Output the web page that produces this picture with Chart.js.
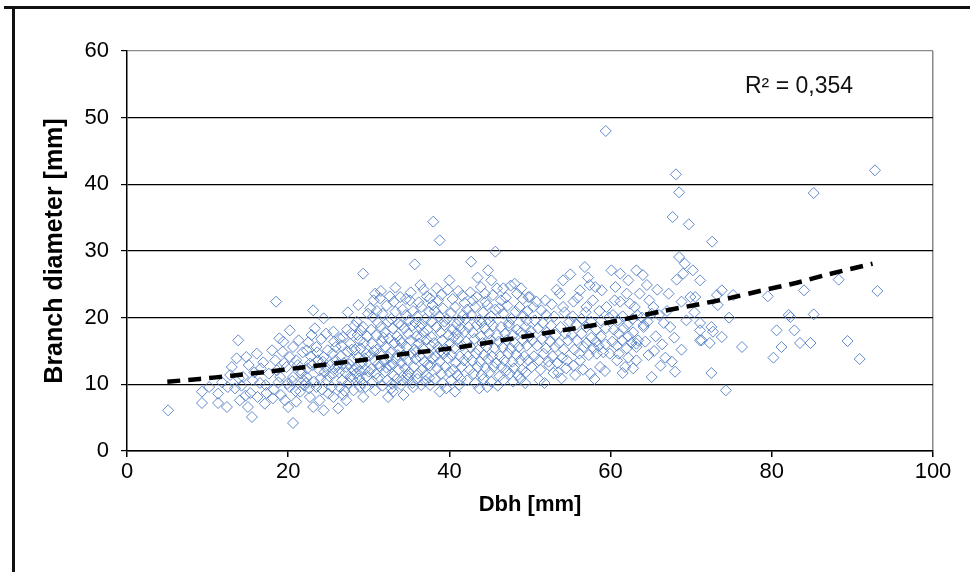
<!DOCTYPE html>
<html>
<head>
<meta charset="utf-8">
<script src="https://cdn.jsdelivr.net/npm/chart.js@4.4.1/dist/chart.umd.min.js"></script>
<style>
html,body{margin:0;padding:0;background:#fff;}
#wrap{width:970px;height:572px;position:relative;}
canvas{display:block;}
</style>
</head>
<body>
<div id="wrap"><canvas id="c" width="970" height="572"></canvas></div>
<script>
// ---- Data ----
const dbh = [
  5.1,9.3,9.3,10.2,11.3,11.3,11.8,12.4,12.5,12.8,
  13.0,13.8,13.6,13.4,14.4,14.8,16.1,15.0,15.5,14.0,15.3,16.5,17.3,17.1,15.8,16.6,14.2,15.6,16.9,13.9,17.2,16.2,15.1,17.6,14.7,
  18.5,18.0,18.4,19.0,19.6,20.6,20.2,19.4,20.6,20.2,21.0,19.8,21.5,20.6,21.9,20.2,21.5,21.0,18.2,18.8,19.1,19.9,18.6,21.3,21.8,20.9,18.1,19.5,21.6,20.0,22.0,21.2,19.3,18.9,20.5,
  23.1,24.4,22.9,22.3,23.5,24.4,22.7,23.9,22.3,23.5,24.8,22.7,23.9,24.4,23.1,25.6,25.9,25.9,25.6,25.6,22.5,23.3,24.1,24.9,25.3,22.8,23.7,24.6,25.1,22.4,23.2,24.2,25.4,24.0,22.6,25.8,24.7,23.0,25.5,24.3,22.2,25.0,23.6,24.5,25.7,
  26.2,26.8,27.7,27.2,27.7,26.4,28.1,27.2,28.5,29.3,29.3,28.9,29.7,28.5,29.7,28.9,29.3,26.5,26.9,27.4,27.9,28.3,28.7,29.1,29.5,26.3,26.7,27.1,27.5,28.0,28.4,28.8,29.2,29.6,26.6,27.3,27.8,28.2,28.6,29.0,29.4,29.8,26.1,27.0,27.6,28.1,28.9,29.5,26.4,29.9,27.4,28.7,26.8,29.0,27.9,
  30.8,31.4,30.6,33.9,30.8,33.0,32.4,30.2,30.5,31.1,31.7,32.2,32.8,33.3,33.7,30.3,30.9,31.5,32.0,32.5,33.0,33.5,34.0,30.4,31.0,31.6,32.1,32.7,33.2,33.8,30.1,30.7,31.3,31.9,32.4,33.0,33.6,30.3,30.9,31.4,32.0,32.6,33.1,33.7,30.5,31.1,31.7,32.3,32.9,33.5,34.0,31.2,32.2,33.4,30.6,31.8,33.9,32.4,31.0,33.1,30.0,32.8,31.5,33.3,32.6,
  34.3,35.5,37.6,35.1,37.6,35.7,36.4,34.2,34.6,35.0,35.5,36.0,36.5,37.0,37.5,34.4,34.9,35.4,35.9,36.3,36.8,37.3,37.8,34.1,34.7,35.2,35.7,36.2,36.7,37.2,37.7,34.3,34.8,35.3,35.8,36.3,36.9,37.4,37.9,34.5,35.0,35.6,36.1,36.6,37.1,37.6,34.2,34.9,35.4,36.0,36.5,37.0,37.5,36.8,35.2,37.2,34.6,36.2,37.9,35.8,36.6,34.8,37.3,35.9,36.4,37.8,34.0,
  38.0,38.8,38.8,38.6,40.0,41.1,38.2,38.7,39.2,39.7,40.2,40.7,41.2,41.7,38.4,38.9,39.4,39.9,40.4,40.9,41.4,41.9,38.1,38.6,39.1,39.6,40.1,40.6,41.1,41.6,38.3,38.8,39.3,39.8,40.3,40.8,41.3,41.8,38.5,39.0,39.5,40.0,40.5,41.0,41.5,38.2,39.2,40.2,41.2,39.6,40.7,39.0,40.4,41.6,38.4,39.8,41.9,40.9,39.4,38.9,40.5,41.4,
  42.7,44.8,45.2,45.7,43.4,44.4,42.2,42.7,43.2,43.7,44.2,44.7,45.2,45.7,42.4,42.9,43.4,43.9,44.4,44.9,45.4,45.9,42.1,42.6,43.1,43.6,44.1,44.6,45.1,45.6,42.3,42.8,43.3,43.8,44.3,44.8,45.3,45.8,42.5,43.0,43.5,44.0,44.5,45.0,45.5,42.2,43.2,44.2,45.2,43.7,44.7,42.6,43.9,45.4,42.9,44.5,45.9,43.5,44.0,42.0,45.0,
  46.7,48.1,49.8,47.1,46.7,46.2,46.7,47.2,47.7,48.2,48.7,49.2,49.7,46.4,46.9,47.4,47.9,48.4,48.9,49.4,49.9,46.1,46.6,47.1,47.6,48.1,48.6,49.1,49.6,46.3,46.8,47.3,47.8,48.3,48.8,49.3,49.8,46.5,47.5,48.0,48.5,49.0,49.5,46.2,47.9,48.8,49.4,47.0,48.4,46.4,49.1,47.6,48.9,47.4,49.6,46.0,
  50.0,51.9,53.7,54.1,55.0,51.4,54.1,50.4,51.2,52.9,50.6,51.0,51.6,52.1,52.6,53.2,53.8,54.4,54.9,50.3,50.9,51.5,52.0,52.5,53.1,53.6,54.2,54.7,50.5,51.1,51.7,52.3,52.8,53.4,54.0,54.6,50.2,51.3,52.4,53.5,54.5,52.0,53.0,50.8,52.7,54.3,51.8,53.9,50.1,53.3,
  56.8,57.4,58.1,58.9,56.2,55.4,57.0,59.5,59.4,56.2,58.3,59.9,58.7,55.3,55.8,56.4,57.0,57.6,58.2,58.8,59.4,55.2,55.8,56.4,57.0,57.6,58.2,58.8,59.4,55.5,56.1,56.7,57.3,57.9,58.5,59.1,55.4,56.6,57.5,59.3,55.9,57.8,58.6,56.9,59.8,57.2,55.6,58.0,
  60.1,61.2,63.2,62.2,64.5,63.6,62.0,61.2,62.4,65.3,63.4,64.3,63.2,64.1,61.5,63.2,60.8,60.3,60.9,61.5,62.1,62.7,63.3,63.9,64.6,60.4,61.0,61.6,62.2,62.8,60.2,60.8,61.4,62.0,62.6,61.0,62.2,61.8,60.5,63.0,64.8,60.6,64.0,62.8,64.7,
  65.1,66.8,68.0,68.8,68.1,68.5,67.7,69.7,68.5,69.2,70.2,68.2,71.1,67.2,69.9,68.8,69.4,67.4,71.1,71.3,72.6,70.5,73.2,73.8,73.3,75.2,74.7,71.1,72.5,72.7,71.1,72.3,73.8,76.3,72.5,74.3,66.0,65.6,66.4,67.0,65.8,66.6,67.9,69.0,70.4,65.4,66.2,67.6,65.1,64.1,63.2,
  79.5,80.2,80.6,81.2,82.1,82.8,83.5,84.8,84.0,85.2,88.3,89.4,90.9,93.1,85.2,92.8,82.3
];
const branchDiameter = [
  6.1,8.9,7.2,9.6,8.6,7.2,10.3,6.6,9.6,11.4,
  12.6,16.6,13.9,9.4,11.1,14.1,14.6,6.6,5.1,7.6,8.7,10.2,8.7,7.1,11.8,12.4,9.8,10.6,13.3,10.9,9.9,8.1,12.9,11.6,8.3,
  22.4,15.1,13.6,11.1,7.6,4.2,18.1,16.4,15.6,14.1,13.6,12.6,12.1,11.1,10.6,9.6,8.9,7.4,9.2,10.3,8.4,10.1,12.1,16.6,14.8,9.0,7.9,13.2,11.6,6.6,9.8,12.9,14.9,16.9,10.5,
  21.1,19.9,17.4,15.1,15.6,14.1,13.1,12.1,11.1,9.6,10.6,8.1,7.6,6.1,6.6,17.9,15.6,13.6,11.6,8.1,16.3,18.4,16.8,15.1,13.0,14.2,13.6,12.6,11.2,12.4,10.4,9.2,9.6,10.9,9.4,12.4,17.6,12.9,14.6,13.4,10.2,8.6,14.8,11.8,16.4,
  6.4,17.1,16.1,12.6,11.1,9.6,9.1,7.6,19.4,26.6,18.6,16.6,14.6,12.6,11.1,9.6,8.1,14.2,13.2,14.9,13.6,15.2,14.0,13.1,12.2,11.8,10.6,11.7,10.2,10.8,11.6,10.9,10.2,9.6,15.8,18.2,17.6,18.8,17.4,15.4,16.2,17.2,12.9,9.0,13.0,12.2,12.0,13.9,16.9,20.6,20.8,21.9,8.4,18.1,15.2,
  23.6,22.9,22.6,23.1,9.1,8.9,8.1,21.4,20.1,19.3,20.6,21.8,19.8,20.9,19.1,18.2,17.4,18.6,17.8,16.9,18.4,17.2,18.9,16.1,15.2,16.4,15.6,14.8,16.2,15.4,14.3,13.6,14.6,13.4,14.1,13.0,14.4,12.3,11.6,12.6,11.9,12.8,11.3,12.2,10.4,10.9,9.8,10.6,10.1,10.8,9.9,13.1,12.5,13.8,15.0,17.0,16.6,19.4,21.0,22.4,11.9,9.4,24.0,24.5,23.2,
  8.4,9.6,9.9,22.6,22.9,28.0,24.9,21.2,20.4,19.6,21.0,20.2,21.6,19.8,20.9,18.4,17.6,18.8,17.2,18.6,17.8,18.2,17.1,16.2,15.6,16.6,15.2,16.1,15.4,16.7,15.8,14.3,13.6,14.6,13.8,14.2,13.4,14.6,13.9,12.4,11.8,12.6,11.6,12.2,11.4,12.8,10.6,10.9,10.2,10.8,9.9,10.5,11.0,24.2,23.8,23.2,22.8,22.3,21.9,19.2,19.0,11.4,12.9,14.9,17.0,19.4,13.2,
  34.4,31.6,8.9,22.6,25.6,24.0,21.0,20.2,21.4,19.8,20.7,21.6,19.6,20.4,18.6,17.8,18.9,17.4,18.2,17.6,18.4,17.9,16.2,15.6,16.6,15.2,16.1,15.4,16.8,15.8,14.2,13.4,14.6,13.9,14.4,13.2,14.2,13.6,12.4,11.6,12.6,11.8,12.2,11.4,12.6,10.8,10.2,10.6,9.9,9.4,8.9,23.4,22.8,23.3,24.4,24.2,22.2,19.0,19.4,15.0,17.0,10.8,
  28.4,27.1,25.6,29.9,23.1,23.6,21.2,20.4,21.6,19.6,20.8,21.9,20.2,21.2,18.6,17.8,18.9,17.2,18.4,17.6,18.8,17.4,16.4,15.6,16.8,15.2,16.2,15.6,16.6,15.4,14.2,13.6,14.6,13.4,14.4,13.8,14.2,13.2,12.2,11.6,12.6,11.4,12.4,11.8,12.6,10.6,10.2,10.8,10.4,9.4,9.6,23.8,24.6,23.4,22.6,22.4,24.4,26.0,19.2,19.8,19.4,
  24.4,25.1,23.1,12.1,10.6,21.4,20.6,21.8,19.8,20.9,21.6,20.2,21.0,18.6,17.6,18.8,17.4,18.2,17.8,18.6,17.2,16.4,15.6,16.6,15.4,16.2,15.6,16.6,15.8,14.2,13.6,14.6,13.4,14.4,13.6,14.2,13.6,12.6,11.6,12.4,11.4,12.2,11.8,11.2,10.4,10.8,10.2,23.0,23.6,22.6,22.8,24.8,24.4,19.2,19.6,9.8,
  23.1,22.6,23.6,25.6,26.5,21.1,21.6,21.6,10.6,11.7,19.6,18.4,19.2,17.8,18.8,17.4,18.6,17.6,19.4,16.6,15.8,16.8,15.4,16.4,15.6,16.2,15.2,16.6,14.2,13.6,14.6,13.4,14.2,13.2,14.0,13.6,12.6,12.2,12.8,11.8,12.4,20.4,20.2,22.4,22.0,20.8,10.2,10.9,18.0,24.2,
  27.6,24.9,24.6,24.1,24.1,22.4,21.6,21.6,48.0,13.6,14.6,14.6,12.6,20.2,19.0,19.8,18.6,19.4,18.2,19.6,18.4,17.4,16.6,17.6,16.2,17.0,16.4,17.2,16.0,15.2,14.6,15.6,14.4,15.4,15.8,14.8,12.8,12.2,11.6,12.0,23.0,22.6,21.0,20.8,20.0,26.0,11.4,10.8,
  27.1,26.6,27.1,25.6,24.9,23.6,23.6,22.4,22.1,21.6,16.6,16.4,15.6,18.6,11.7,13.6,13.6,20.4,19.6,20.2,19.0,19.8,20.4,20.0,19.4,18.2,17.6,18.4,17.2,17.8,16.4,15.8,16.6,15.4,16.2,14.6,14.0,12.6,22.6,21.6,22.6,24.6,26.4,12.4,14.4,
  11.1,14.0,11.9,15.2,41.5,38.8,35.1,34.0,29.1,28.1,27.1,25.7,25.6,23.6,23.1,22.4,19.6,18.6,18.1,16.6,31.4,23.1,23.4,24.1,21.9,23.4,20.0,19.2,18.6,17.9,16.6,16.2,17.1,15.6,11.7,9.1,20.4,17.2,16.0,21.0,24.2,19.2,17.0,26.6,20.8,15.0,12.8,13.4,20.6,18.9,16.1,
  23.2,14.0,18.1,15.6,20.4,18.1,16.2,16.2,24.1,20.5,25.7,16.5,13.8,24.0,38.7,42.1,20.1
];
// Trend line (dashed curve)
const trendDbh    = [5, 9, 13, 17.5, 21.5, 25.5, 29.5, 34, 37.5, 42, 46, 50, 54, 59, 63, 66.5, 70.5, 75, 78.5, 83, 87, 92.5];
const trendBranch = [10.4, 10.8, 11.3, 11.9, 12.5, 13.1, 13.7, 14.5, 15.0, 15.7, 16.5, 17.3, 18.1, 19.1, 20.1, 21.0, 21.9, 23.0, 24.0, 25.2, 26.5, 28.1];
const xTickValues = [0, 20, 40, 60, 80, 100];
const yTickValues = [0, 10, 20, 30, 40, 50, 60];
const rSquaredText = 'R\u00B2 = 0,354';
const xTitle = 'Dbh [mm]';
const yTitle = 'Branch diameter [mm]';

// ---- Build chart ----
const n = Math.min(dbh.length, branchDiameter.length);
const scatterPoints = [];
for (let i = 0; i < n; i++) scatterPoints.push({x: dbh[i], y: branchDiameter[i]});
const trendPoints = trendDbh.map((x, i) => ({x: x, y: trendBranch[i]}));

const FONT = "'Liberation Sans', Arial, sans-serif";

const framePlugin = {
  id: 'frame',
  beforeDraw(chart) {
    const c = chart.ctx;
    c.save();
    c.fillStyle = '#fff';
    c.fillRect(0, 0, chart.width, chart.height);
    c.strokeStyle = '#111';
    c.lineWidth = 3;
    c.beginPath();
    c.moveTo(4, 7.5); c.lineTo(chart.width, 7.5);
    c.moveTo(13.5, 6); c.lineTo(13.5, chart.height);
    c.stroke();
    c.restore();
  },
  afterDraw(chart) {
    const c = chart.ctx;
    c.save();
    c.fillStyle = '#111';
    c.font = "23px " + FONT;
    c.textBaseline = 'alphabetic';
    c.textAlign = 'left';
    c.fillText(rSquaredText, 745, 93);
    c.restore();
  }
};

new Chart(document.getElementById('c'), {
  type: 'scatter',
  data: {
    datasets: [
      {
        type: 'line',
        data: trendPoints,
        borderColor: '#000',
        borderWidth: 4.5,
        borderDash: [13, 8],
        pointRadius: 0,
        fill: false,
        tension: 0.3,
        order: 0
      },
      {
        data: scatterPoints,
        pointStyle: 'rectRot',
        pointRadius: 5.5,
        borderColor: 'rgba(80,125,198,0.9)',
        backgroundColor: 'rgba(0,0,0,0)',
        borderWidth: 1,
        order: 1
      }
    ]
  },
  options: {
    responsive: false,
    animation: false,
    devicePixelRatio: 1,
    layout: {padding: {left: 0, right: 37, top: 51, bottom: 54}},
    plugins: {legend: {display: false}, tooltip: {enabled: false}},
    scales: {
      x: {
        type: 'linear', min: 0, max: 100,
        afterBuildTicks: s => { s.ticks = xTickValues.map(v => ({value: v})); },
        ticks: {font: {family: FONT, size: 22}, color: '#000', padding: 2, maxRotation: 0},
        grid: {
          color: c => (c.tick && c.tick.value === 100) ? '#8a8a8a' : 'rgba(0,0,0,0)',
          tickColor: '#000', tickLength: 6, lineWidth: 1.5
        },
        border: {color: '#000', width: 1.5},
        title: {display: true, text: xTitle, color: '#000', font: {family: FONT, size: 22, weight: 'bold'}, padding: {top: 0, bottom: 0}},
        afterFit: s => { s.height = 67; }
      },
      y: {
        type: 'linear', min: 0, max: 60,
        afterBuildTicks: s => { s.ticks = yTickValues.map(v => ({value: v})); },
        ticks: {font: {family: FONT, size: 22}, color: '#000', padding: 12},
        grid: {
          color: c => (c.tick && c.tick.value === 60) ? '#8a8a8a' : '#000',
          tickColor: '#000', tickLength: 6, lineWidth: 1.2
        },
        border: {color: '#000', width: 1.5},
        title: {display: true, text: yTitle, color: '#000', font: {family: FONT, size: 25, weight: 'bold'}, padding: {top: 40, bottom: 0}},
        afterFit: s => { s.width = 127; }
      }
    }
  },
  plugins: [framePlugin]
});
</script>
</body>
</html>
